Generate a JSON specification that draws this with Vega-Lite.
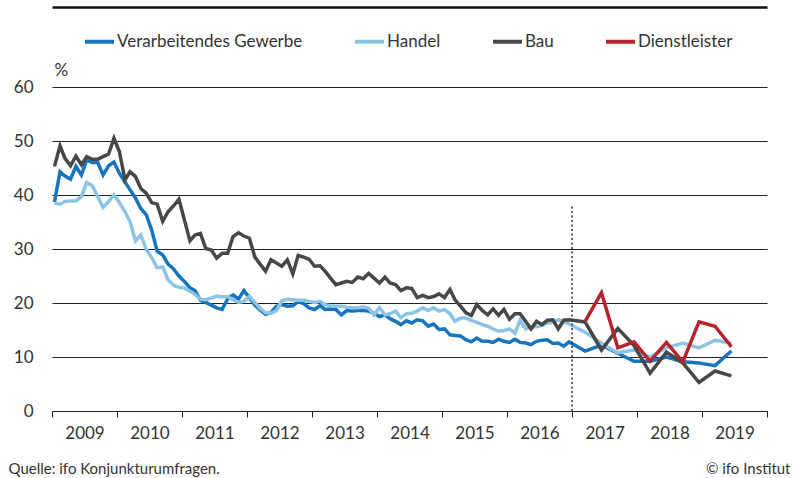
{
  "$schema": "https://vega.github.io/schema/vega-lite/v6.json",
  "width": 715,
  "height": 324,
  "autosize": {"type": "none"},
  "padding": {"left": 52, "top": 87, "right": 28, "bottom": 67},
  "config": {
    "font": "Lato",
    "view": {"stroke": null},
    "axis": {"labelColor": "#333", "titleColor": "#333", "labelFontSize": 17, "titleFontWeight": "normal"},
    "legend": {"labelFontSize": 17, "labelColor": "#333"}
  },
  "datasets": {
    "rates": [
      {"d": "2009-01-15", "vg": 38.7, "handel": 38.5, "bau": 45.3},
      {"d": "2009-02-15", "vg": 44.3, "handel": 38.3, "bau": 49.1},
      {"d": "2009-03-15", "vg": 43.5, "handel": 38.8, "bau": 46.8},
      {"d": "2009-04-15", "vg": 42.9, "handel": 38.9, "bau": 45.4},
      {"d": "2009-05-15", "vg": 45.3, "handel": 38.9, "bau": 47.2},
      {"d": "2009-06-15", "vg": 43.7, "handel": 39.7, "bau": 45.6},
      {"d": "2009-07-15", "vg": 46.5, "handel": 42.3, "bau": 47.1},
      {"d": "2009-08-15", "vg": 46.0, "handel": 41.7, "bau": 46.6},
      {"d": "2009-09-15", "vg": 46.0, "handel": 39.7, "bau": 46.6},
      {"d": "2009-10-15", "vg": 43.7, "handel": 37.7, "bau": 47.1},
      {"d": "2009-11-15", "vg": 45.4, "handel": 38.8, "bau": 47.6},
      {"d": "2009-12-15", "vg": 46.1, "handel": 40.0, "bau": 50.5},
      {"d": "2010-01-15", "vg": 44.0, "handel": 38.6, "bau": 48.0},
      {"d": "2010-02-15", "vg": 42.4, "handel": 36.9, "bau": 42.8},
      {"d": "2010-03-15", "vg": 41.0, "handel": 35.1, "bau": 44.3},
      {"d": "2010-04-15", "vg": 39.4, "handel": 31.5, "bau": 43.4},
      {"d": "2010-05-15", "vg": 37.5, "handel": 32.6, "bau": 41.2},
      {"d": "2010-06-15", "vg": 36.3, "handel": 29.9, "bau": 40.3},
      {"d": "2010-07-15", "vg": 33.5, "handel": 28.4, "bau": 38.6},
      {"d": "2010-08-15", "vg": 29.6, "handel": 26.5, "bau": 38.3},
      {"d": "2010-09-15", "vg": 28.9, "handel": 26.7, "bau": 35.1},
      {"d": "2010-10-15", "vg": 27.2, "handel": 24.3, "bau": 36.9},
      {"d": "2010-11-15", "vg": 26.3, "handel": 23.3, "bau": 38.0},
      {"d": "2010-12-15", "vg": 25.0, "handel": 22.9, "bau": 39.2},
      {"d": "2011-01-15", "vg": 24.0, "handel": 22.8, "bau": 35.4},
      {"d": "2011-02-15", "vg": 22.8, "handel": 22.2, "bau": 31.5},
      {"d": "2011-03-15", "vg": 22.3, "handel": 21.6, "bau": 32.6},
      {"d": "2011-04-15", "vg": 20.5, "handel": 20.7, "bau": 32.9},
      {"d": "2011-05-15", "vg": 20.1, "handel": 20.6, "bau": 30.1},
      {"d": "2011-06-15", "vg": 19.6, "handel": 20.9, "bau": 29.8},
      {"d": "2011-07-15", "vg": 19.1, "handel": 21.3, "bau": 28.3},
      {"d": "2011-08-15", "vg": 18.8, "handel": 21.1, "bau": 29.2},
      {"d": "2011-09-15", "vg": 20.8, "handel": 21.2, "bau": 29.2},
      {"d": "2011-10-15", "vg": 21.5, "handel": 20.6, "bau": 32.3},
      {"d": "2011-11-15", "vg": 20.7, "handel": 20.1, "bau": 33.0},
      {"d": "2011-12-15", "vg": 22.3, "handel": 20.3, "bau": 32.4},
      {"d": "2012-01-15", "vg": 21.0, "handel": 21.2, "bau": 32.0},
      {"d": "2012-02-15", "vg": 19.6, "handel": 20.1, "bau": 28.5},
      {"d": "2012-03-15", "vg": 18.7, "handel": 19.0, "bau": 27.2},
      {"d": "2012-04-15", "vg": 17.9, "handel": 18.2, "bau": 25.9},
      {"d": "2012-05-15", "vg": 18.2, "handel": 18.1, "bau": 28.0},
      {"d": "2012-06-15", "vg": 19.4, "handel": 18.6, "bau": 27.4},
      {"d": "2012-07-15", "vg": 19.7, "handel": 20.4, "bau": 26.8},
      {"d": "2012-08-15", "vg": 19.4, "handel": 20.7, "bau": 28.0},
      {"d": "2012-09-15", "vg": 19.5, "handel": 20.6, "bau": 25.4},
      {"d": "2012-10-15", "vg": 20.3, "handel": 20.5, "bau": 28.8},
      {"d": "2012-11-15", "vg": 19.9, "handel": 20.5, "bau": 28.5},
      {"d": "2012-12-15", "vg": 19.1, "handel": 20.3, "bau": 28.1},
      {"d": "2013-01-15", "vg": 18.8, "handel": 20.1, "bau": 26.8},
      {"d": "2013-02-15", "vg": 19.5, "handel": 20.3, "bau": 26.9},
      {"d": "2013-03-15", "vg": 18.8, "handel": 19.7, "bau": 25.9},
      {"d": "2013-04-15", "vg": 18.9, "handel": 19.5, "bau": 24.6},
      {"d": "2013-05-15", "vg": 18.8, "handel": 19.4, "bau": 23.4},
      {"d": "2013-06-15", "vg": 17.8, "handel": 19.4, "bau": 23.7},
      {"d": "2013-07-15", "vg": 18.6, "handel": 19.2, "bau": 24.0},
      {"d": "2013-08-15", "vg": 18.5, "handel": 19.1, "bau": 23.8},
      {"d": "2013-09-15", "vg": 18.6, "handel": 19.1, "bau": 24.8},
      {"d": "2013-10-15", "vg": 18.6, "handel": 19.3, "bau": 24.5},
      {"d": "2013-11-15", "vg": 18.5, "handel": 19.0, "bau": 25.5},
      {"d": "2013-12-15", "vg": 18.1, "handel": 17.8, "bau": 24.6},
      {"d": "2014-01-15", "vg": 17.5, "handel": 19.1, "bau": 23.7},
      {"d": "2014-02-15", "vg": 17.8, "handel": 17.8, "bau": 24.8},
      {"d": "2014-03-15", "vg": 17.1, "handel": 18.0, "bau": 23.7},
      {"d": "2014-04-15", "vg": 16.6, "handel": 18.5, "bau": 23.4},
      {"d": "2014-05-15", "vg": 16.0, "handel": 17.3, "bau": 22.3},
      {"d": "2014-06-15", "vg": 16.7, "handel": 18.0, "bau": 22.8},
      {"d": "2014-07-15", "vg": 16.3, "handel": 18.1, "bau": 22.7},
      {"d": "2014-08-15", "vg": 16.9, "handel": 18.5, "bau": 21.0},
      {"d": "2014-09-15", "vg": 16.7, "handel": 19.1, "bau": 21.4},
      {"d": "2014-10-15", "vg": 15.7, "handel": 18.6, "bau": 21.0},
      {"d": "2014-11-15", "vg": 16.1, "handel": 19.1, "bau": 21.2},
      {"d": "2014-12-15", "vg": 15.1, "handel": 18.5, "bau": 21.7},
      {"d": "2015-01-15", "vg": 15.2, "handel": 18.8, "bau": 21.0},
      {"d": "2015-02-15", "vg": 14.1, "handel": 18.0, "bau": 22.5},
      {"d": "2015-03-15", "vg": 14.0, "handel": 16.6, "bau": 20.6},
      {"d": "2015-04-15", "vg": 13.9, "handel": 17.2, "bau": 19.4},
      {"d": "2015-05-15", "vg": 13.2, "handel": 17.2, "bau": 18.2},
      {"d": "2015-06-15", "vg": 12.8, "handel": 16.8, "bau": 17.7},
      {"d": "2015-07-15", "vg": 13.5, "handel": 16.4, "bau": 19.7},
      {"d": "2015-08-15", "vg": 12.9, "handel": 16.0, "bau": 18.6},
      {"d": "2015-09-15", "vg": 12.9, "handel": 15.7, "bau": 17.8},
      {"d": "2015-10-15", "vg": 12.7, "handel": 15.2, "bau": 18.9},
      {"d": "2015-11-15", "vg": 13.3, "handel": 14.8, "bau": 17.7},
      {"d": "2015-12-15", "vg": 12.9, "handel": 14.9, "bau": 18.8},
      {"d": "2016-01-15", "vg": 12.7, "handel": 15.2, "bau": 17.0},
      {"d": "2016-02-15", "vg": 13.3, "handel": 14.4, "bau": 18.0},
      {"d": "2016-03-15", "vg": 12.7, "handel": 16.8, "bau": 18.0},
      {"d": "2016-04-15", "vg": 12.6, "handel": 15.2, "bau": 16.6},
      {"d": "2016-05-15", "vg": 12.3, "handel": 15.6, "bau": 15.2},
      {"d": "2016-06-15", "vg": 12.9, "handel": 15.6, "bau": 16.6},
      {"d": "2016-07-15", "vg": 13.1, "handel": 15.8, "bau": 16.0},
      {"d": "2016-08-15", "vg": 13.2, "handel": 16.3, "bau": 16.8},
      {"d": "2016-09-15", "vg": 12.5, "handel": 16.4, "bau": 16.9},
      {"d": "2016-10-15", "vg": 12.6, "handel": 16.9, "bau": 15.2},
      {"d": "2016-11-15", "vg": 12.0, "handel": 16.6, "bau": 16.8},
      {"d": "2016-12-15", "vg": 12.8, "handel": 16.1, "bau": 16.9},
      {"d": "2017-03-15", "vg": 11.1, "handel": 14.6, "bau": 16.5, "dienst": 16.6},
      {"d": "2017-06-15", "vg": 12.2, "handel": 12.5, "bau": 11.3, "dienst": 21.9},
      {"d": "2017-09-15", "vg": 10.7, "handel": 10.8, "bau": 15.3, "dienst": 11.7},
      {"d": "2017-12-15", "vg": 9.2, "handel": 11.3, "bau": 12.1, "dienst": 12.8},
      {"d": "2018-03-15", "vg": 9.2, "handel": 10.0, "bau": 7.0, "dienst": 9.2},
      {"d": "2018-06-15", "vg": 10.0, "handel": 11.7, "bau": 10.9, "dienst": 12.7},
      {"d": "2018-09-15", "vg": 9.1, "handel": 12.6, "bau": 8.9, "dienst": 9.1},
      {"d": "2018-12-15", "vg": 8.9, "handel": 11.7, "bau": 5.3, "dienst": 16.5},
      {"d": "2019-03-15", "vg": 8.4, "handel": 13.1, "bau": 7.4, "dienst": 15.7},
      {"d": "2019-06-15", "vg": 11.1, "handel": 12.6, "bau": 6.5, "dienst": 11.9}
    ],
    "marker": [{"d": "2017-01-01", "lo": 0, "hi": 38}]
  },
  "resolve": {"axis": {"x": "independent", "y": "independent"}},
  "layer": [
    {
      "data": {"name": "rates"},
      "transform": [
        {"fold": ["vg", "handel", "bau", "dienst"], "as": ["s", "v"]},
        {"filter": "isValid(datum.v)"}
      ],
      "mark": {"type": "line", "strokeWidth": 3.5, "strokeJoin": "miter"},
      "encoding": {
        "x": {
          "field": "d", "type": "temporal",
          "scale": {"domain": ["2009-01-01", "2020-01-01"]},
          "axis": {
            "values": ["2009-01-01", "2010-01-01", "2011-01-01", "2012-01-01", "2013-01-01", "2014-01-01", "2015-01-01", "2016-01-01", "2017-01-01", "2018-01-01", "2019-01-01", "2020-01-01"],
            "labelExpr": "year(datum.value) >= 2020 ? '' : timeFormat(datum.value, '%Y')",
            "labelOffset": 32.5,
            "labelPadding": 8,
            "labelFlush": false,
            "labelOverlap": false,
            "labelBound": false,
            "tickSize": 6,
            "tickColor": "#222",
            "domainColor": "#222",
            "domainWidth": 1.2,
            "grid": false,
            "title": "Quelle: ifo Konjunkturumfragen.",
            "titleFontSize": 15,
            "titleX": -44,
            "titleY": 57,
            "titleAlign": "left",
            "titleBaseline": "middle"
          }
        },
        "y": {
          "field": "v", "type": "quantitative",
          "scale": {"domain": [0, 60]},
          "axis": {
            "values": [0, 10, 20, 30, 40, 50, 60],
            "grid": true,
            "gridColor": "#222",
            "gridWidth": 1.1,
            "domain": false,
            "ticks": false,
            "labelPadding": 19,
            "title": "%",
            "titleFontSize": 17,
            "titleAngle": 0,
            "titleAlign": "left",
            "titleBaseline": "middle",
            "titleX": 2,
            "titleY": -17
          }
        },
        "color": {
          "field": "s", "type": "nominal",
          "scale": {"domain": ["vg", "handel", "bau", "dienst"], "range": ["#1675bd", "#8cc4e6", "#474747", "#b5232c"]},
          "legend": {
            "title": null,
            "orient": "none",
            "legendX": 31,
            "legendY": -62,
            "direction": "horizontal",
            "symbolType": "stroke",
            "symbolStrokeWidth": 4,
            "symbolSize": 841,
            "labelOffset": 1,
            "labelLimit": 400,
            "columnPadding": 44,
            "labelExpr": "({'vg': 'Verarbeitendes Gewerbe', 'handel': 'Handel', 'bau': 'Bau', 'dienst': 'Dienstleister'})[datum.label]"
          }
        }
      }
    },
    {
      "data": {"name": "marker"},
      "mark": {"type": "rule", "strokeDash": [2, 2.5], "strokeWidth": 1.5, "color": "#333"},
      "encoding": {
        "x": {
          "field": "d", "type": "temporal",
          "scale": {"domain": ["2009-01-01", "2020-01-01"]},
          "axis": {"orient": "top", "offset": 80, "domain": true, "domainColor": "#111", "domainWidth": 2.5, "ticks": false, "labels": false, "grid": false, "title": null}
        },
        "y": {
          "field": "lo", "type": "quantitative",
          "scale": {"domain": [0, 60]},
          "axis": {"orient": "right", "domain": false, "ticks": false, "labels": false, "grid": false, "title": "© ifo Institut", "titleFontSize": 15, "titleAngle": 0, "titleAlign": "right", "titleBaseline": "middle", "titleX": 23, "titleY": 381}
        },
        "y2": {"field": "hi"}
      }
    }
  ]
}
